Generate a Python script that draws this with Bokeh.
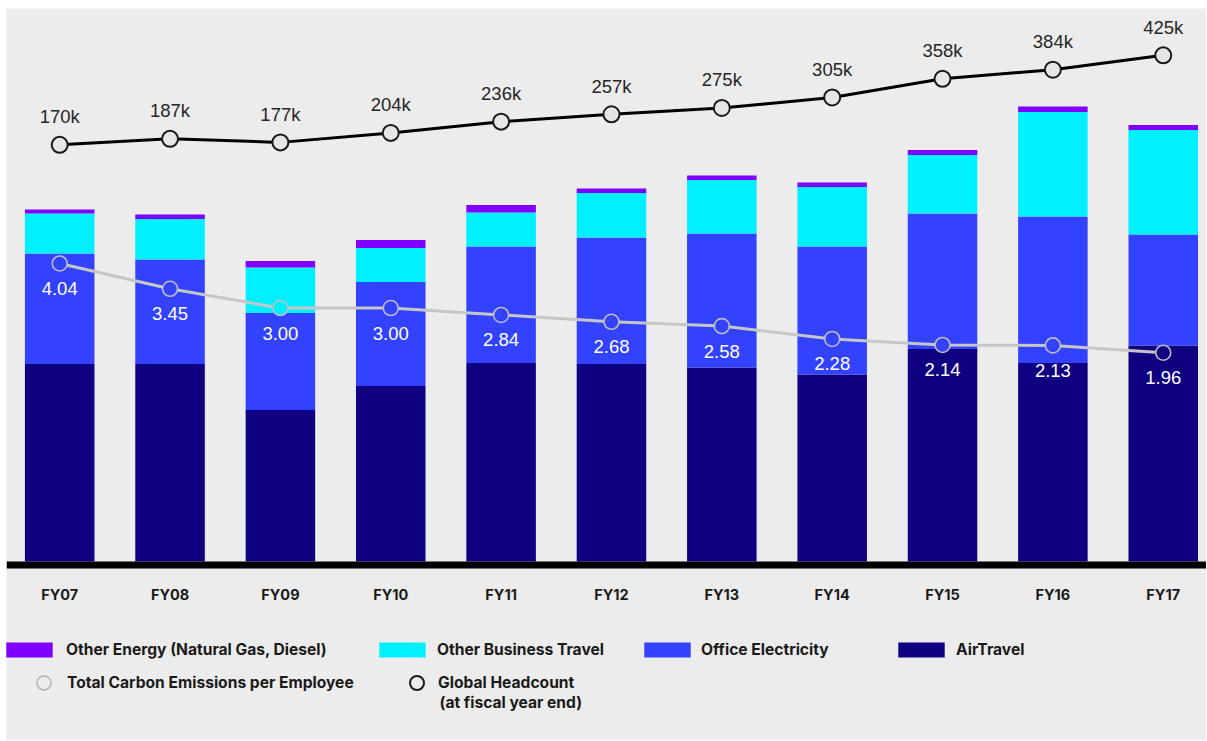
from bokeh.plotting import figure
from bokeh.models import (Range1d, ColumnDataSource, Legend, LegendItem, Label, Span)
from bokeh.core.properties import value
from bokeh.embed import file_html
from bokeh.resources import INLINE

# ---------------- data ----------------
years = ["FY07", "FY08", "FY09", "FY10", "FY11", "FY12",
         "FY13", "FY14", "FY15", "FY16", "FY17"]
# emissions by source (thousand metric tonnes CO2e)
air_travel = [395, 395, 303, 351, 397, 395, 388, 374, 425, 397, 432]
office_electricity = [221, 209, 194, 208, 233, 253, 268, 256, 271, 293, 222]
other_business_travel = [80, 81, 91, 68, 68, 89, 107, 119, 117, 209, 209]
other_energy = [8, 9, 13, 16, 15, 9, 9, 9, 10, 11, 10]
# total carbon emissions per employee (t CO2e)
emissions_per_employee = [4.04, 3.45, 3.00, 3.00, 2.84, 2.68, 2.58, 2.28, 2.14, 2.13, 1.96]
# global headcount at fiscal year end (thousands)
headcount_k = [170, 187, 177, 204, 236, 257, 275, 305, 358, 384, 425]

series_names = ["AirTravel", "Office Electricity", "Other Business Travel",
                "Other Energy (Natural Gas, Diesel)"]
colors = ["#0f0082", "#3242ff", "#00f0ff", "#7f00ff"]

BG = "#ececec"
W, H = 1200, 732

# ranges
X_START, X_END = -0.482, 10.392
Y_START, Y_END = -358, 1106
E_START, E_END = -7.08, 9.983
HC_START, HC_END = -1527.0, 558.4

idx = list(range(len(years)))

p = figure(width=W, height=H, output_backend="svg", toolbar_location=None,
           x_range=Range1d(X_START, X_END), y_range=Range1d(Y_START, Y_END),
           x_axis_location=None, y_axis_location=None,
           min_border_left=0, min_border_right=0,
           min_border_top=0, min_border_bottom=0)
p.margin = (8, 0, 0, 6)
p.extra_y_ranges = {"emis": Range1d(E_START, E_END),
                    "hc": Range1d(HC_START, HC_END)}
p.background_fill_color = BG
p.border_fill_color = BG
p.outline_line_color = None
p.xgrid.visible = False
p.ygrid.visible = False

# stacked bars
src = ColumnDataSource(dict(x=idx, air=air_travel, elec=office_electricity,
                            travel=other_business_travel, energy=other_energy,
                            year=years, zero=[0] * len(years)))
bars = p.vbar_stack(["air", "elec", "travel", "energy"], x="x", width=0.63,
                    fill_color=colors, line_color=None, source=src)

# baseline (thick black axis line)
p.add_layout(Span(location=-7, dimension="width", line_color="black", line_width=7))

# category labels
p.text("x", "zero", text="year", source=src, y_offset=33, text_align="center",
       text_baseline="middle", text_color="#1a1a1a", text_font=value("Inter"),
       text_font_style="bold", text_font_size="14.5px")

# emission-per-employee marker fill = colour of the segment behind it
marker_fill = []
for i, e in enumerate(emissions_per_employee):
    f = (e - E_START) / (E_END - E_START)
    b = Y_START + f * (Y_END - Y_START)
    cum = 0
    col = BG
    for vals, c in zip([air_travel, office_electricity, other_business_travel, other_energy], colors):
        cum += vals[i]
        if b <= cum:
            col = c
            break
    marker_fill.append(col)

esrc = ColumnDataSource(dict(x=idx, y=emissions_per_employee,
                             lab=[f"{v:.2f}" for v in emissions_per_employee],
                             fill=marker_fill))
p.line("x", "y", source=esrc, y_range_name="emis", line_color="#c6c6c6", line_width=3)
p.scatter("x", "y", source=esrc, y_range_name="emis", size=15, marker="circle",
          fill_color="fill", line_color="#bdbdbd", line_width=1.6)
p.text("x", "y", text="lab", source=esrc, y_range_name="emis", y_offset=25,
       text_align="center", text_baseline="middle", text_color="white",
       text_font=value("Liberation Sans"), text_font_size="18.5px")

# headcount
hsrc = ColumnDataSource(dict(x=idx, y=headcount_k, lab=[f"{v}k" for v in headcount_k]))
p.line("x", "y", source=hsrc, y_range_name="hc", line_color="black", line_width=3)
p.scatter("x", "y", source=hsrc, y_range_name="hc", size=16, marker="circle",
          fill_color="#e6e6e6", line_color="#1a1a1a", line_width=2)
p.text("x", "y", text="lab", source=hsrc, y_range_name="hc", y_offset=-28,
       text_align="center", text_baseline="middle", text_color="#262626",
       text_font=value("Liberation Sans"), text_font_size="18.5px")

# legend-only renderers for the circle keys (no visible data)
nan = float("nan")
emis_leg = p.scatter(x=[nan], y=[nan], size=14, marker="circle", fill_alpha=0,
                     line_color="#b3b3b3", line_width=1.6)
hc_leg = p.scatter(x=[nan], y=[nan], size=14, marker="circle", fill_alpha=0,
                   line_color="#1a1a1a", line_width=2)

FONT = "Inter"
FSIZE = "15.6px"


def add_legend(label, renderer, vx, vy, gw, gh, standoff):
    lg = Legend(items=[LegendItem(label=label, renderers=[renderer], index=0)],
                location=(vx, vy), glyph_width=gw, glyph_height=gh,
                label_height=gh, label_standoff=standoff, padding=0, spacing=0,
                margin=0, border_line_color=None, background_fill_alpha=0,
                label_text_font=FONT, label_text_font_style="bold",
                label_text_font_size=FSIZE, label_text_color="#1a1a1a",
                label_text_baseline="middle")
    p.add_layout(lg)


GW, GH = 58, 19
row1_y = 81
add_legend(series_names[3], bars[3], -6, row1_y, GW, GH, 8)
add_legend(series_names[2], bars[2], 367, row1_y, GW, GH, 6)
add_legend(series_names[1], bars[1], 632, row1_y, GW, GH, 5)
add_legend(series_names[0], bars[0], 886, row1_y, GW, GH, 6)
add_legend("Total Carbon Emissions per Employee", emis_leg, 20, 40, 35, 35, 6)
add_legend("Global Headcount", hc_leg, 393, 40, 35, 35, 4)
p.add_layout(Label(x=433, y=37.8, x_units="screen", y_units="screen",
                   text="(at fiscal year end)", text_baseline="middle",
                   text_align="left", text_font=FONT, text_font_style="bold",
                   text_font_size=FSIZE, text_color="#1a1a1a"))

open("out.html", "w").write(file_html(p, INLINE))
